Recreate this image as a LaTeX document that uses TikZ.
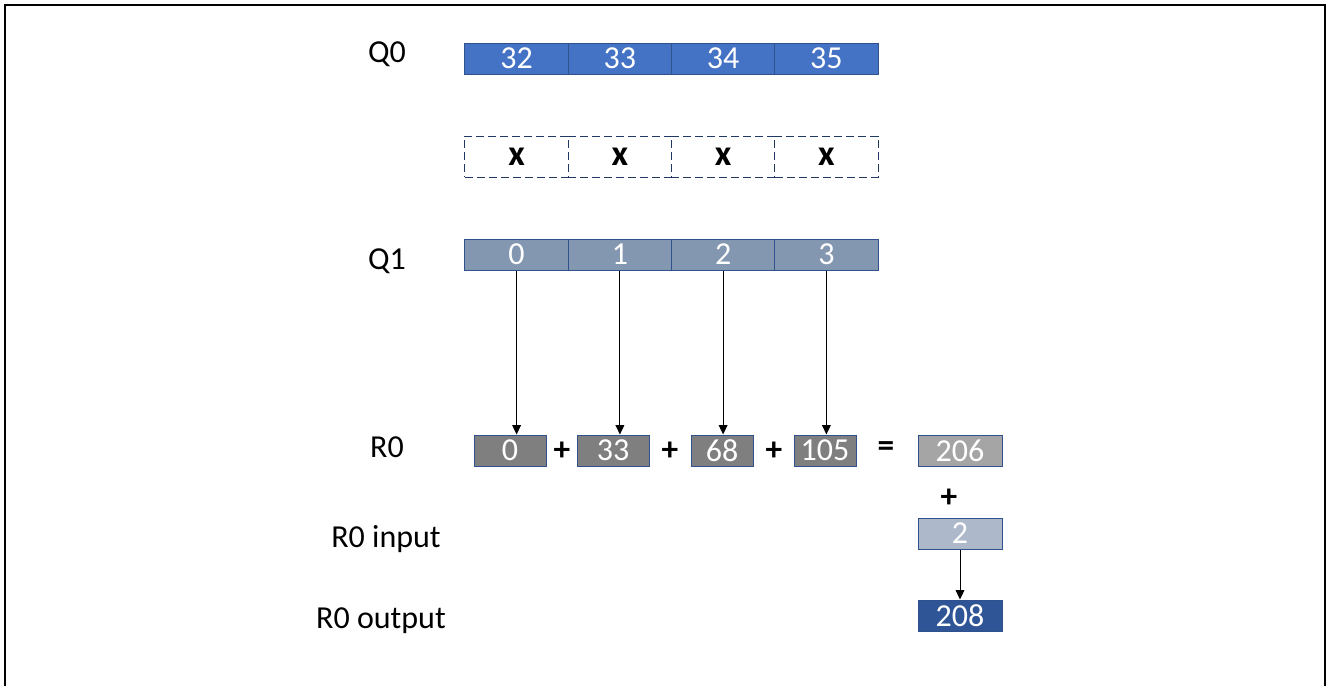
\documentclass[tikz,border=0pt]{standalone}
\usepackage{fontspec}
\setmainfont{Carlito}
\usetikzlibrary{arrows.meta}
\definecolor{outline}{HTML}{2F528F}
\definecolor{dashline}{HTML}{203864}
\definecolor{qzero}{HTML}{4472C4}
\definecolor{qone}{HTML}{8497B0}
\definecolor{rgray}{HTML}{7F7F7F}
\definecolor{sumgray}{HTML}{A5A5A5}
\definecolor{inblue}{HTML}{ADB9CA}
\definecolor{outblue}{HTML}{2F5597}
\tikzset{
  cell/.style={draw=outline, line width=0.75pt, inner sep=0pt, text=white,
    font=\fontsize{24}{26}\selectfont, minimum height=23.25pt},
  qcell/.style={cell, minimum width=77.44pt},
  xcell/.style={draw=dashline, line width=0.75pt, dash pattern=on 6pt off 3pt,
    inner sep=0pt, minimum width=77.44pt, minimum height=30.75pt,
    font=\fontsize{27}{29}\selectfont\bfseries},
  rowlabel/.style={inner sep=0pt, font=\fontsize{24}{26}\selectfont},
  op/.style={inner sep=0pt, font=\fontsize{25}{27}\selectfont\bfseries},
  link/.style={line width=0.75pt, -{Triangle[length=7pt,width=6.5pt]}},
}
\begin{document}
\begin{tikzpicture}[x=0.75pt, y=-0.75pt]
\useasboundingbox (0,0) rectangle (1326,686);
% frame
\draw[line width=1.6pt] (5,686) -- (5,5) -- (1325,5) -- (1325,686);

% row labels
\node[rowlabel] (lq0) at (387,54) {Q0};
\node[rowlabel] (lq1) at (387,261) {Q1};
\node[rowlabel] (lr0) at (387,447) {R0};
\node[rowlabel] (lin) at (386,539) {R0 input};
\node[rowlabel] (lout) at (381,621) {R0 output};

% Q0 register
\node[qcell, fill=qzero] (a0) at (516.6,58.5) {32};
\node[qcell, fill=qzero] (a1) at (619.9,58.5) {33};
\node[qcell, fill=qzero] (a2) at (723.1,58.5) {34};
\node[qcell, fill=qzero] (a3) at (826.4,58.5) {35};

% element-wise multiply placeholders
\node[xcell] (m0) at (516.6,156.5) {x};
\node[xcell] (m1) at (619.9,156.5) {x};
\node[xcell] (m2) at (723.1,156.5) {x};
\node[xcell] (m3) at (826.4,156.5) {x};

% Q1 register
\node[qcell, fill=qone] (b0) at (516.6,254.5) {0};
\node[qcell, fill=qone] (b1) at (619.9,254.5) {1};
\node[qcell, fill=qone] (b2) at (723.1,254.5) {2};
\node[qcell, fill=qone] (b3) at (826.4,254.5) {3};

% products
\node[cell, fill=rgray, minimum width=54pt] (p0) at (510,450.5) {0};
\node[cell, fill=rgray, minimum width=54pt] (p1) at (613,450.5) {33};
\node[cell, fill=rgray, minimum width=46.5pt] (p2) at (722,450.5) {68};
\node[cell, fill=rgray, minimum width=46.5pt] (p3) at (825,450.5) {105};
\node[cell, fill=sumgray, minimum width=63pt] (s) at (960,450.5) {206};

\node[op] (plus0) at (562,451) {+};
\node[op] (plus1) at (670,451) {+};
\node[op] (plus2) at (774,451) {+};
\node[op] (eq) at (886,449) {=};
\node[op] (plus3) at (949,498) {+};

% accumulator input and output
\node[cell, fill=inblue, minimum width=63pt] (in) at (960,533.5) {2};
\node[cell, fill=outblue, minimum width=63pt] (out) at (960,615.5) {208};

% connectors
\draw[link] (b0.south) -- (b0.south |- p0.north);
\draw[link] (b1.south) -- (b1.south |- p1.north);
\draw[link] (b2.south) -- (b2.south |- p2.north);
\draw[link] (b3.south) -- (b3.south |- p3.north);
\draw[link] (in) -- (out);
\end{tikzpicture}
\end{document}
